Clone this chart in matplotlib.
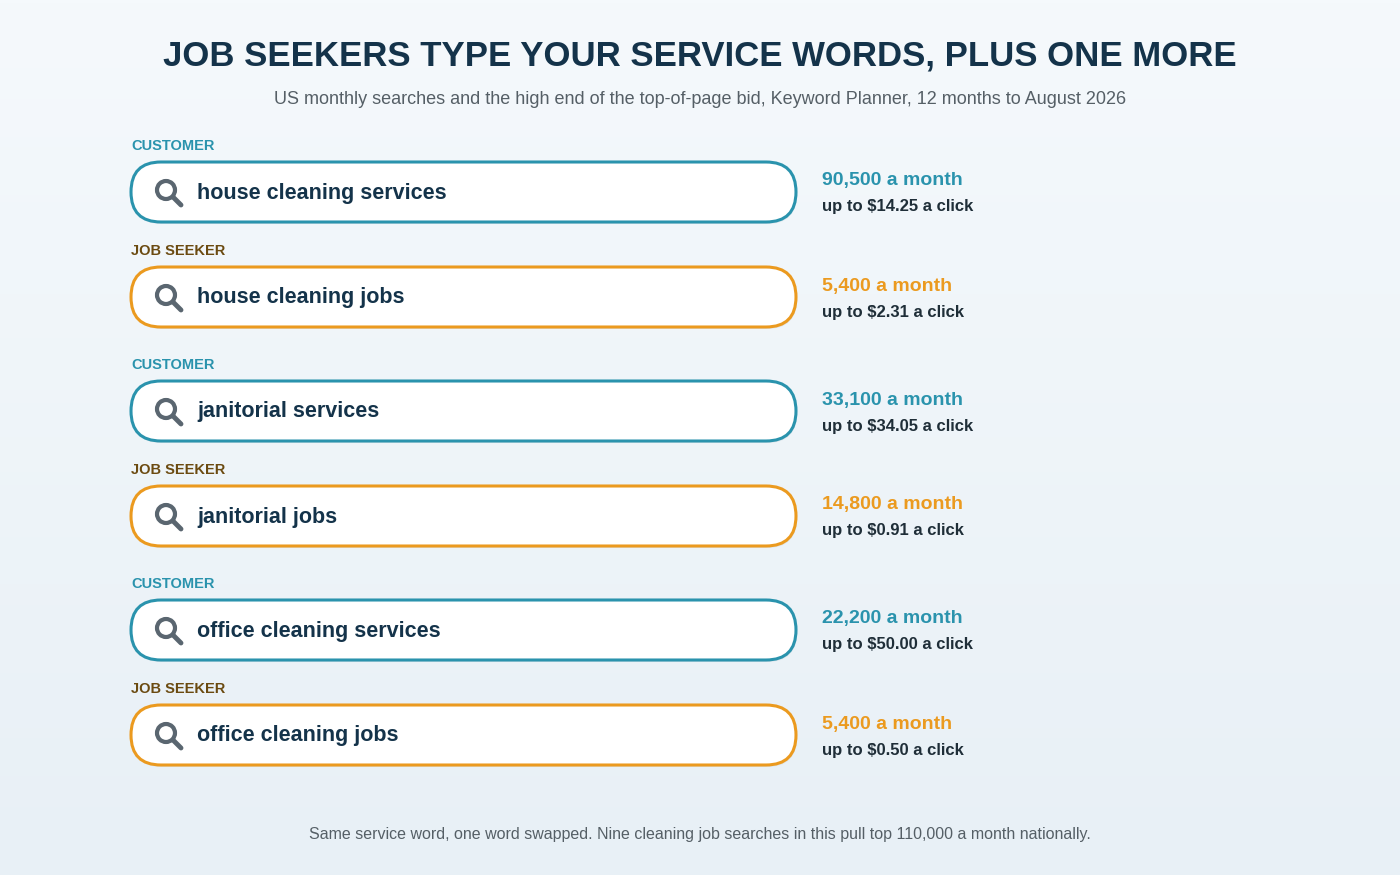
import matplotlib
matplotlib.use("Agg")
import matplotlib.pyplot as plt
import numpy as np
from matplotlib.patches import FancyBboxPatch, Circle

plt.rcParams['font.family'] = ['Liberation Sans', 'DejaVu Sans']

roles = ["CUSTOMER", "JOB SEEKER", "CUSTOMER", "JOB SEEKER", "CUSTOMER", "JOB SEEKER"]
queries = ["house cleaning services", "house cleaning jobs", "janitorial services",
           "janitorial jobs", "office cleaning services", "office cleaning jobs"]
searches = [90500, 5400, 33100, 14800, 22200, 5400]
bids = [14.25, 2.31, 34.05, 0.91, 50.00, 0.50]
centers = [192, 297, 411, 516, 630, 735]

TEAL = "#2a93ad"; ORANGE = "#eb9a1f"; BROWN = "#6b4a10"; NAVY = "#14334a"

fig = plt.figure(figsize=(14, 8.75), dpi=100)
ax = fig.add_axes([0, 0, 1, 1])
ax.set_xlim(0, 1400); ax.set_ylim(875, 0); ax.axis('off')

grad = np.linspace(0, 1, 256).reshape(-1, 1)
from matplotlib.colors import LinearSegmentedColormap
cm = LinearSegmentedColormap.from_list("bg", ["#f5f9fc", "#e8f0f6"])
ax.imshow(grad, cmap=cm, extent=[0, 1400, 875, 0], aspect='auto', zorder=0)

ax.text(700, 56, "JOB SEEKERS TYPE YOUR SERVICE WORDS, PLUS ONE MORE", ha='center', va='center',
        fontsize=25, fontweight='bold', color=NAVY)
ax.text(700, 99, "US monthly searches and the high end of the top-of-page bid, Keyword Planner, 12 months to August 2026",
        ha='center', va='center', fontsize=13, color="#555f66")

for role, q, s, b, c in zip(roles, queries, searches, bids, centers):
    col = TEAL if role == "CUSTOMER" else ORANGE
    lab = TEAL if role == "CUSTOMER" else BROWN
    ax.text(131, c - 46, "  ".join([" ".join(w) for w in role.split()]) if False else role,
            ha='left', va='center', fontsize=10.5, fontweight='bold', color=lab)
    # shadow
    ax.add_patch(FancyBboxPatch((132, c - 28), 665, 60, boxstyle="round,pad=0,rounding_size=30",
                                fc="#d5dde3", ec='none', zorder=1, alpha=0.6))
    ax.add_patch(FancyBboxPatch((131, c - 30), 665, 60, boxstyle="round,pad=0,rounding_size=30",
                                fc="white", ec=col, lw=2.2, zorder=2))
    ax.add_patch(Circle((166, c - 2), 9, fc='none', ec="#5a6670", lw=3, zorder=3))
    ax.plot([173, 181], [c + 5, c + 13], color="#5a6670", lw=3.5, solid_capstyle='round', zorder=3)
    ax.text(197, c + 1, q, ha='left', va='center', fontsize=15.5, fontweight='bold', color=NAVY, zorder=4)
    ax.text(822, c - 11, f"{s:,} a month", ha='left', va='center', fontsize=14, fontweight='bold', color=col)
    ax.text(822, c + 15, f"up to ${b:.2f} a click", ha='left', va='center', fontsize=12, fontweight='bold', color="#1f2e38")

ax.text(700, 834, "Same service word, one word swapped. Nine cleaning job searches in this pull top 110,000 a month nationally.",
        ha='center', va='center', fontsize=11.5, color="#555f66")

fig.savefig("out.png", dpi=100)
